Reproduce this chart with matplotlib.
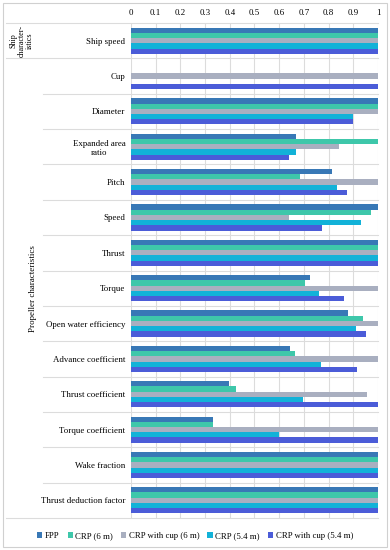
import numpy as np
import matplotlib.pyplot as plt
import matplotlib.transforms as mtransforms
from matplotlib.lines import Line2D
from matplotlib.patches import Rectangle

## data

categories = ['Ship speed', 'Cup', 'Diameter', 'Expanded area\nratio', 'Pitch',
			  'Speed', 'Thrust', 'Torque', 'Open water efficiency',
			  'Advance coefficient', 'Thrust coefficient', 'Torque coefficient',
			  'Wake fraction', 'Thrust deduction factor']

series_names = ['FPP', 'CRP (6 m)', 'CRP with cup (6 m)', 'CRP (5.4 m)', 'CRP with cup (5.4 m)']

fpp       = [1.0, 0.0, 1.0, 0.668, 0.812, 1.0, 1.0, 0.725, 0.877, 0.644, 0.398, 0.33, 1.0, 1.0]
crp6      = [1.0, 0.0, 1.0, 1.0,   0.684, 0.97, 1.0, 0.705, 0.938, 0.664, 0.425, 0.33, 1.0, 1.0]
crp6_cup  = [1.0, 1.0, 1.0, 0.842, 1.0,   0.638, 1.0, 1.0,  1.0,   1.0,   0.957, 1.0,  1.0, 1.0]
crp54     = [1.0, 0.0, 0.898, 0.668, 0.836, 0.931, 1.0, 0.762, 0.909, 0.768, 0.698, 0.598, 1.0, 1.0]
crp54_cup = [1.0, 1.0, 0.898, 0.641, 0.874, 0.772, 1.0, 0.862, 0.951, 0.916, 1.0, 1.0, 1.0, 1.0]

xticks = [0, 0.1, 0.2, 0.3, 0.4, 0.5, 0.6, 0.7, 0.8, 0.9, 1]
xtick_labels = ['0', '0.1', '0.2', '0.3', '0.4', '0.5', '0.6', '0.7', '0.8', '0.9', '1']

colors = ['#3878b6', '#3ec7aa', '#a9afc0', '#12b2d8', '#4b5cd8']

plt.rcParams['font.family'] = ['Liberation Serif', 'DejaVu Serif']
fsize = 6.4

W, H = 390, 550
fig = plt.figure(figsize=(W / 100, H / 100), dpi=100)
ax = fig.add_axes([131 / W, 1 - 518 / H, (378 - 131) / W, (518 - 23) / H])

ypos = np.arange(len(categories))
all_series = [fpp, crp6, crp6_cup, crp54, crp54_cup]
bh = 0.148
for i, vals in enumerate(all_series):
	offs = (i - 2) * bh
	ax.barh(ypos + offs, vals, height=bh, color=colors[i], label=series_names[i], zorder=3)

ax.set_xlim(0, 1.0)
ax.set_ylim(len(categories) - 0.5, -0.5)
ax.xaxis.tick_top()
ax.set_xticks(xticks)
ax.set_xticklabels(xtick_labels, fontsize=fsize)
ax.set_yticks(ypos)
ax.set_yticklabels(categories, fontsize=fsize, multialignment='center')
ax.tick_params(length=0, pad=4)
ax.grid(axis='x', color='#dcdcdc', linewidth=0.8, zorder=0)
for s in ax.spines.values():
	s.set_visible(False)

# row separators running into the group label column
trans = mtransforms.blended_transform_factory(fig.transFigure, ax.transData)
xr = 378 / W
for k in range(len(categories) + 1):
	y = k - 0.5
	if k in (0, 1, len(categories)):
		x0 = 6 / W
	else:
		x0 = 43 / W
	ax.add_line(Line2D([x0, xr], [y, y], transform=trans, color='#dcdcdc',
					   linewidth=0.8, clip_on=False, zorder=1))

# group labels
ax.text(22 / W, 0, 'Ship\ncharacter-\nistics', transform=trans, rotation=90,
		ha='center', va='center', fontsize=5.8, linespacing=1.0)
ax.text(33 / W, 7, 'Propeller characteristics', transform=trans, rotation=90,
		ha='center', va='center', fontsize=fsize)

fig.legend(loc='center', bbox_to_anchor=(0.5, 1 - 536 / H), ncol=5, fontsize=6.3,
		   frameon=False, handlelength=0.6, handleheight=0.6, handletextpad=0.3,
		   columnspacing=0.9, borderpad=0)

# outer border
fig.patches.append(Rectangle((3 / W, 3 / H), 1 - 6 / W, 1 - 6 / H, transform=fig.transFigure,
							 fill=False, edgecolor='#d0d0d0', linewidth=0.8))

fig.savefig('out.png', dpi=100)
